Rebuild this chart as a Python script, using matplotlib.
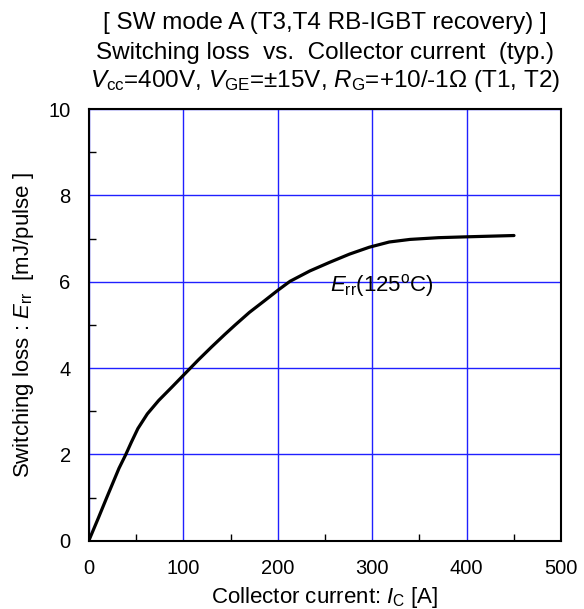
import numpy as np
import matplotlib
matplotlib.use("Agg")
import matplotlib.pyplot as plt
from matplotlib.ticker import MultipleLocator

plt.rcParams['font.family'] = ['Liberation Sans', 'DejaVu Sans']
plt.rcParams['mathtext.fontset'] = 'custom'
plt.rcParams['mathtext.rm'] = 'Liberation Sans'
plt.rcParams['mathtext.it'] = 'Liberation Sans:italic'

# Err(125C) curve
ic = [0, 10, 19, 32, 39, 45, 52, 62, 74, 88, 100, 116, 130, 144, 155, 170, 186, 200,
      213, 234, 255, 276, 297, 318, 340, 370, 400, 450]
err = [0.0, 0.52, 1.0, 1.68, 1.99, 2.28, 2.6, 2.94, 3.25, 3.56, 3.83, 4.19, 4.49, 4.78, 5.0,
       5.29, 5.56, 5.8, 6.01, 6.25, 6.45, 6.64, 6.8, 6.92, 6.98, 7.02, 7.04, 7.07]

xticks = [0, 100, 200, 300, 400, 500]
yticks = [0, 2, 4, 6, 8, 10]

fig = plt.figure(figsize=(5.84, 6.09), dpi=100)
ax = fig.add_axes([0.152, 0.112, 0.809, 0.709])

ax.plot(ic, err, color='black', lw=2.3, solid_capstyle='round', solid_joinstyle='round', zorder=3)

ax.set_xlim(0, 500)
ax.set_ylim(0, 10)
ax.set_xticks(xticks)
ax.set_yticks(yticks)
ax.xaxis.set_minor_locator(MultipleLocator(50))
ax.yaxis.set_minor_locator(MultipleLocator(1))
ax.tick_params(which='both', direction='in', labelsize=14.5, top=False, right=False)
ax.tick_params(which='major', length=0, pad=13)
ax.tick_params(which='minor', length=5, width=1)
ax.grid(True, which='major', color='#2020ff', lw=1.0)
for s in ax.spines.values():
    s.set_linewidth(1.5)
    s.set_zorder(4)

ax.text(255, 5.77, r'$E_{\rm rr}$(125$^{\rm o}$C)', fontsize=16, va='baseline', ha='left')

ax.set_xlabel(r'Collector current: $I_{\rm C}$ [A]', fontsize=16)
ax.set_ylabel(r'Switching loss : $E_{\rm rr}$  [mJ/pulse ]', fontsize=16)
ax.xaxis.set_label_coords(0.5, -0.102)
ax.yaxis.set_label_coords(-0.112, 0.5)

cx = 0.152 + 0.809 / 2
fig.text(cx, 1 - 23 / 609, '[ SW mode A (T3,T4 RB-IGBT recovery) ]', fontsize=17.5, ha='center', va='center')
fig.text(cx, 1 - 53 / 609, 'Switching loss  vs.  Collector current  (typ.)', fontsize=17.5, ha='center', va='center')
fig.text(cx, 1 - 81 / 609, r'$V_{\rm cc}$=400V, $V_{\rm GE}$=±15V, $R_{\rm G}$=+10/-1Ω (T1, T2)',
         fontsize=17.5, ha='center', va='center')

fig.savefig('out.png', dpi=100)
